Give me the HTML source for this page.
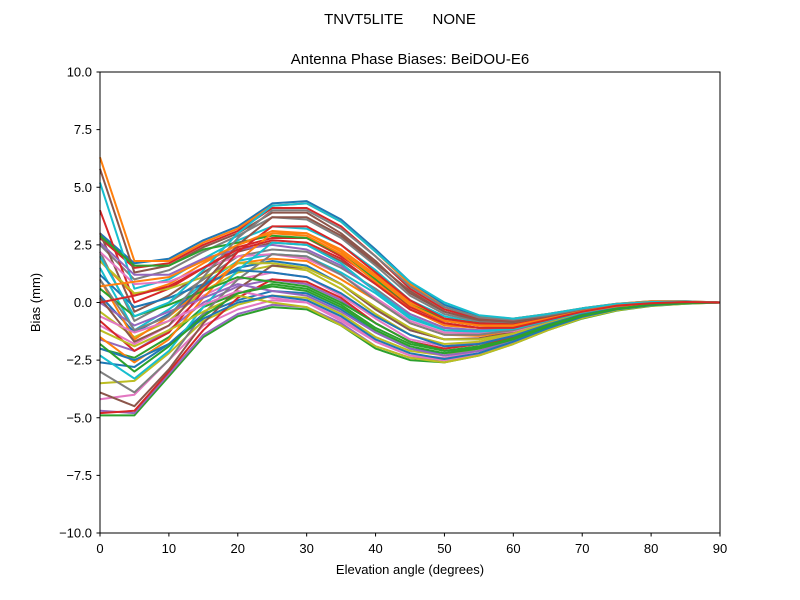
<!DOCTYPE html>
<html><head><meta charset="utf-8"><style>
body{margin:0;background:#fff;}
svg{display:block;font-family:"Liberation Sans","DejaVu Sans",sans-serif;}
</style></head><body>
<svg id="chart" width="800" height="600">
<rect width="800" height="600" fill="#fff"/>
<text x="400" y="24" font-size="15" text-anchor="middle" style="white-space:pre" xml:space="preserve">TNVT5LITE       NONE</text>
<text x="410" y="64" font-size="15" text-anchor="middle">Antenna Phase Biases: BeiDOU-E6</text>
<g id="lines"></g>
<rect x="100" y="72" width="620" height="461" fill="none" stroke="#000" stroke-width="1"/>
<g id="axes"></g>
<text x="410" y="574" font-size="13" text-anchor="middle">Elevation angle (degrees)</text>
<text transform="translate(40,302.5) rotate(-90)" font-size="13" text-anchor="middle">Bias (mm)</text>
</svg>
<script>
const elevations=[0,5,10,15,20,25,30,35,40,45,50,55,60,65,70,75,80,85,90];
const xTicks=[0,10,20,30,40,50,60,70,80,90];
const yTicks=[-10,-7.5,-5,-2.5,0,2.5,5,7.5,10];
const yTickLabels=["\u221210.0","\u22127.5","\u22125.0","\u22122.5","0.0","2.5","5.0","7.5","10.0"];
const series=[
[3.0,1.7,1.9,2.7,3.3,4.3,4.4,3.6,2.3,0.9,-0.1,-0.6,-0.7,-0.5,-0.25,-0.05,0.05,0.05,0],
[6.3,1.8,1.8,2.6,3.2,4.2,4.3,3.5,2.2,0.8,-0.2,-0.65,-0.7,-0.5,-0.25,-0.05,0.05,0.05,0],
[-4.9,-4.9,-3.2,-1.5,-0.6,-0.2,-0.3,-1.0,-2.0,-2.5,-2.6,-2.3,-1.8,-1.2,-0.7,-0.35,-0.15,-0.05,0],
[2.8,1.5,1.7,2.5,3.1,4.1,4.1,3.3,2.0,0.6,-0.3,-0.7,-0.8,-0.55,-0.3,-0.1,0.0,0.03,0],
[-4.7,-4.8,-3.1,-1.4,-0.5,-0.1,-0.2,-0.9,-1.9,-2.4,-2.5,-2.2,-1.7,-1.1,-0.65,-0.3,-0.12,-0.03,0],
[5.8,1.3,1.6,2.4,3.0,3.9,3.9,3.0,1.8,0.4,-0.4,-0.8,-0.85,-0.6,-0.3,-0.1,0.0,0.03,0],
[-4.2,-4.0,-2.5,-1.0,-0.3,0.1,0.0,-0.7,-1.7,-2.3,-2.4,-2.1,-1.65,-1.1,-0.6,-0.3,-0.12,-0.03,0],
[2.5,1.0,1.4,2.2,2.9,3.7,3.6,2.8,1.6,0.3,-0.5,-0.85,-0.9,-0.6,-0.3,-0.1,0.0,0.03,0],
[-3.5,-3.4,-2.2,-0.8,-0.1,0.3,0.2,-0.5,-1.5,-2.1,-2.3,-2.0,-1.6,-1.05,-0.6,-0.3,-0.12,-0.03,0],
[5.2,0.6,1.0,1.9,2.7,3.3,3.2,2.5,1.4,0.1,-0.6,-0.9,-0.95,-0.65,-0.35,-0.12,-0.02,0.02,0],
[-2.6,-2.8,-1.8,-0.5,0.1,0.5,0.4,-0.3,-1.3,-2.0,-2.2,-1.95,-1.55,-1.0,-0.55,-0.28,-0.1,-0.03,0],
[1.8,0.3,0.8,1.7,2.5,3.0,3.0,2.3,1.2,0.0,-0.7,-0.95,-1.0,-0.7,-0.38,-0.12,-0.02,0.02,0],
[-2.0,-2.4,-1.5,-0.2,0.4,0.8,0.6,-0.1,-1.1,-1.8,-2.1,-1.9,-1.5,-1.0,-0.55,-0.28,-0.1,-0.03,0],
[4.0,0.0,0.6,1.5,2.4,2.8,2.8,2.0,1.0,-0.2,-0.8,-1.0,-1.05,-0.72,-0.4,-0.14,-0.03,0.02,0],
[-1.6,-2.1,-1.2,0.0,0.7,1.0,0.8,0.1,-0.9,-1.7,-2.0,-1.8,-1.45,-0.95,-0.52,-0.26,-0.1,-0.03,0],
[3.0,-0.4,0.3,1.3,2.2,2.6,2.5,1.8,0.8,-0.3,-0.9,-1.1,-1.1,-0.75,-0.42,-0.15,-0.04,0.02,0],
[-1.0,-1.8,-1.0,0.3,1.0,1.3,1.1,0.3,-0.7,-1.6,-1.9,-1.75,-1.4,-0.92,-0.5,-0.25,-0.08,-0.02,0],
[2.2,-0.8,0.0,1.0,2.0,2.3,2.2,1.5,0.6,-0.5,-1.1,-1.2,-1.15,-0.78,-0.44,-0.15,-0.04,0.02,0],
[-0.4,-1.5,-0.8,0.5,1.3,1.6,1.4,0.6,-0.5,-1.4,-1.8,-1.7,-1.35,-0.9,-0.5,-0.24,-0.08,-0.02,0],
[1.5,-1.2,-0.3,0.8,1.8,2.1,2.0,1.3,0.4,-0.7,-1.2,-1.3,-1.2,-0.8,-0.45,-0.17,-0.05,0.01,0],
[0.3,-1.3,-0.5,0.7,1.5,1.8,1.6,0.8,-0.3,-1.2,-1.6,-1.6,-1.3,-0.88,-0.48,-0.22,-0.07,-0.01,0],
[1.0,-1.6,-0.6,0.6,1.7,1.9,1.8,1.0,0.1,-0.9,-1.4,-1.45,-1.25,-0.85,-0.46,-0.2,-0.06,0.0,0],
[2.9,1.6,1.6,2.3,2.6,2.9,2.8,2.1,1.0,-0.1,-0.7,-0.9,-0.95,-0.68,-0.38,-0.12,-0.02,0.02,0],
[-4.8,-4.7,-3.0,-1.2,0.2,1.0,0.9,0.2,-0.9,-1.7,-2.0,-1.8,-1.5,-0.98,-0.53,-0.26,-0.1,-0.03,0],
[2.6,1.2,1.2,1.9,2.3,2.5,2.3,1.6,0.5,-0.5,-1.1,-1.2,-1.15,-0.78,-0.42,-0.15,-0.04,0.01,0],
[-3.9,-4.5,-2.9,-0.9,0.6,1.6,1.5,0.8,-0.3,-1.2,-1.6,-1.55,-1.3,-0.87,-0.48,-0.22,-0.07,-0.01,0],
[2.2,0.8,0.9,1.5,2.0,2.1,1.9,1.2,0.2,-0.8,-1.3,-1.35,-1.25,-0.84,-0.46,-0.18,-0.05,0.0,0],
[-3.0,-3.9,-2.5,-0.5,1.0,2.1,2.0,1.2,0.1,-0.9,-1.4,-1.4,-1.2,-0.82,-0.45,-0.2,-0.06,0.0,0],
[1.8,0.4,0.6,1.1,1.7,1.7,1.5,0.8,-0.2,-1.1,-1.6,-1.6,-1.35,-0.9,-0.5,-0.22,-0.07,-0.01,0],
[-2.3,-3.3,-2.1,-0.2,1.4,2.6,2.5,1.7,0.5,-0.6,-1.2,-1.25,-1.15,-0.78,-0.43,-0.18,-0.05,0.0,0],
[1.2,-0.2,0.2,0.8,1.4,1.3,1.1,0.4,-0.6,-1.4,-1.9,-1.8,-1.45,-0.95,-0.52,-0.25,-0.08,-0.02,0],
[-1.5,-2.6,-1.6,0.2,1.8,3.0,2.9,2.1,0.9,-0.3,-1.0,-1.1,-1.05,-0.72,-0.4,-0.16,-0.04,0.01,0],
[0.6,-0.6,-0.1,0.5,1.1,0.9,0.7,0.0,-0.9,-1.7,-2.1,-1.95,-1.55,-1.0,-0.55,-0.27,-0.09,-0.02,0],
[-0.8,-2.1,-1.3,0.5,2.2,3.3,3.3,2.5,1.3,0.1,-0.7,-0.9,-0.95,-0.68,-0.36,-0.12,-0.02,0.02,0],
[0.0,-1.0,-0.4,0.2,0.8,0.5,0.3,-0.4,-1.3,-2.0,-2.3,-2.1,-1.65,-1.08,-0.6,-0.3,-0.1,-0.03,0],
[0.2,-1.7,-1.0,0.8,2.5,3.7,3.7,2.9,1.7,0.5,-0.4,-0.75,-0.85,-0.6,-0.32,-0.1,-0.01,0.03,0],
[-0.6,-1.3,-0.8,-0.1,0.5,0.2,0.0,-0.8,-1.7,-2.3,-2.5,-2.25,-1.75,-1.15,-0.65,-0.32,-0.12,-0.04,0],
[1.0,-1.2,-0.6,1.1,2.8,4.0,4.0,3.2,2.0,0.7,-0.2,-0.65,-0.75,-0.55,-0.28,-0.08,0.0,0.03,0],
[-1.2,-1.9,-1.2,-0.4,0.3,0.0,-0.2,-1.0,-1.9,-2.4,-2.6,-2.3,-1.8,-1.2,-0.68,-0.34,-0.14,-0.05,0],
[2.0,-0.6,0.0,1.4,3.0,4.2,4.3,3.5,2.2,0.9,0.0,-0.55,-0.7,-0.5,-0.25,-0.06,0.02,0.04,0],
[-2.0,-2.5,-1.8,-0.7,0.0,0.3,0.1,-0.6,-1.6,-2.2,-2.45,-2.2,-1.7,-1.12,-0.62,-0.3,-0.12,-0.04,0],
[0.7,0.9,1.1,1.8,2.5,3.1,3.0,2.2,1.1,-0.1,-0.8,-1.0,-1.0,-0.7,-0.38,-0.13,-0.03,0.02,0],
[-1.8,-3.0,-1.9,-0.6,0.4,0.7,0.5,-0.2,-1.2,-1.9,-2.2,-2.0,-1.6,-1.05,-0.58,-0.28,-0.1,-0.03,0],
[0.0,0.3,0.7,1.5,2.3,2.7,2.6,1.9,0.8,-0.3,-0.9,-1.1,-1.1,-0.75,-0.4,-0.14,-0.03,0.02,0]
];
const colors=["#1f77b4","#ff7f0e","#2ca02c","#d62728","#9467bd","#8c564b","#e377c2","#7f7f7f","#bcbd22","#17becf"];
const X0=100,X1=720,Y0=533,Y1=72;
function xs(v){return X0+(v-0)/(90-0)*(X1-X0);}
function ys(v){return Y0-(v+10)/20*(Y0-Y1);}
const NS="http://www.w3.org/2000/svg";
const g=document.getElementById('lines');
series.forEach((s,i)=>{
  const p=document.createElementNS(NS,'polyline');
  p.setAttribute('points',s.map((v,j)=>xs(elevations[j]).toFixed(1)+','+ys(v).toFixed(1)).join(' '));
  p.setAttribute('fill','none');
  p.setAttribute('stroke',colors[i%10]);
  p.setAttribute('stroke-width','2');
  p.setAttribute('stroke-linejoin','round');
  
  
  g.appendChild(p);
});
const ax=document.getElementById('axes');
xTicks.forEach(t=>{
  const x=xs(t);
  const l=document.createElementNS(NS,'line');
  l.setAttribute('x1',x);l.setAttribute('x2',x);l.setAttribute('y1',533);l.setAttribute('y2',536.5);
  l.setAttribute('stroke','#000');
  
  
  ax.appendChild(l);
  const tx=document.createElementNS(NS,'text');
  tx.setAttribute('x',x);tx.setAttribute('y',553);tx.setAttribute('font-size','13');tx.setAttribute('text-anchor','middle');
  tx.textContent=t;
  
  
  ax.appendChild(tx);
});
yTicks.forEach((t,i)=>{
  const y=ys(t);
  const l=document.createElementNS(NS,'line');
  l.setAttribute('x1',96.5);l.setAttribute('x2',100);l.setAttribute('y1',y);l.setAttribute('y2',y);
  l.setAttribute('stroke','#000');
  
  
  ax.appendChild(l);
  const tx=document.createElementNS(NS,'text');
  tx.setAttribute('x',92);tx.setAttribute('y',y+4.5);tx.setAttribute('font-size','13');tx.setAttribute('text-anchor','end');
  tx.textContent=yTickLabels[i];
  
  
  ax.appendChild(tx);
});
</script>
</body></html>
